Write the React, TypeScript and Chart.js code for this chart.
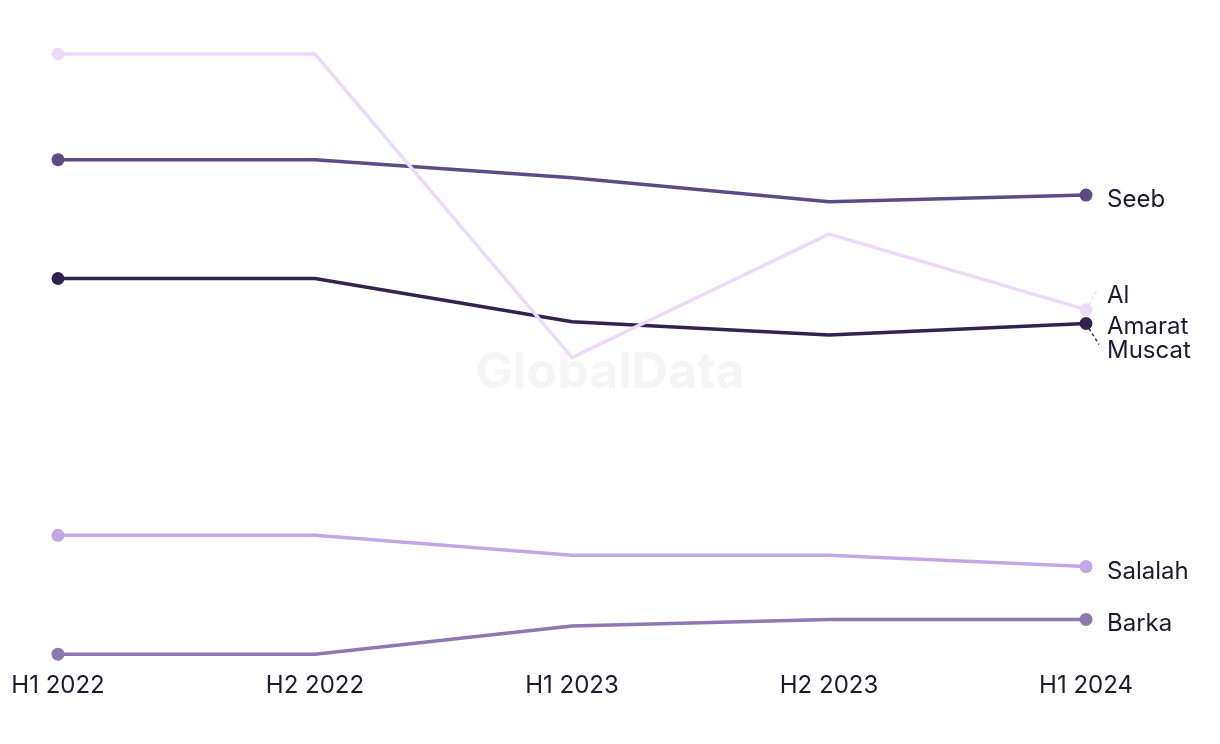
import React, { useEffect, useRef } from "react";
import { Chart, registerables } from "chart.js";

Chart.register(...registerables);

const periods = ["H1 2022", "H2 2022", "H1 2023", "H2 2023", "H1 2024"];
const alAmarat = [100, 100, 49.4, 70.0, 57.4];
const seeb = [82.4, 82.4, 79.4, 75.4, 76.5];
const muscat = [62.6, 62.6, 55.4, 53.2, 55.1];
const salalah = [19.8, 19.8, 16.5, 16.5, 14.6];
const barka = [0, 0, 4.7, 5.8, 5.8];

const seriesNames = ["Al Amarat", "Seeb", "Muscat", "Salalah", "Barka"];
const seriesColors = ["#efd9fb", "#5f4a85", "#35214f", "#c3a7e4", "#8f77b1"];

const TEXT_COLOR = "#1c1a33";
const FONT = "Inter, 'Noto Sans', sans-serif";

const endLabels = {
  id: "endLabels",
  afterDatasetsDraw(chart: any) {
    const ctx = chart.ctx;
    ctx.save();
    ctx.font = `24px ${FONT}`;
    ctx.fillStyle = TEXT_COLOR;
    ctx.textBaseline = "middle";
    ctx.textAlign = "left";
    const pts = chart.data.datasets.map((ds: any, i: number) => {
      const meta = chart.getDatasetMeta(i);
      const p = meta.data[meta.data.length - 1];
      return { x: p.x, y: p.y };
    });
    const tx = pts[0].x + 21;
    const pA = pts[0];
    const pM = pts[2];
    ctx.setLineDash([3, 3]);
    ctx.lineWidth = 1.5;
    ctx.strokeStyle = seriesColors[0];
    ctx.beginPath();
    ctx.moveTo(pA.x + 3, pA.y - 5);
    ctx.lineTo(pA.x + 12, pA.y - 21);
    ctx.stroke();
    ctx.strokeStyle = seriesColors[2];
    ctx.beginPath();
    ctx.moveTo(pM.x + 3, pM.y + 5);
    ctx.lineTo(pM.x + 13, pM.y + 21);
    ctx.stroke();
    ctx.setLineDash([]);
    ctx.fillText("Al", tx, pA.y - 14);
    ctx.fillText("Amarat", tx, pA.y + 17);
    ctx.fillText(seriesNames[2], tx, pM.y + 27);
    ctx.fillText(seriesNames[1], tx, pts[1].y + 5);
    ctx.fillText(seriesNames[3], tx, pts[3].y + 5);
    ctx.fillText(seriesNames[4], tx, pts[4].y + 4);
    ctx.restore();
  },
};

const watermark = {
  id: "watermark",
  beforeDatasetsDraw(chart: any) {
    const ctx = chart.ctx;
    ctx.save();
    ctx.font = `bold 50px ${FONT}`;
    ctx.fillStyle = "#f5f5f5";
    ctx.textAlign = "center";
    ctx.textBaseline = "middle";
    ctx.fillText("GlobalData", 610, 373);
    ctx.restore();
  },
};

export default function App() {
  const ref = useRef<HTMLCanvasElement>(null);
  useEffect(() => {
    if (!ref.current) return;
    const values = [alAmarat, seeb, muscat, salalah, barka];
    const chart = new Chart(ref.current, {
      type: "line",
      data: {
        labels: periods,
        datasets: values.map((v, i) => ({
          label: seriesNames[i],
          data: v,
          borderColor: seriesColors[i],
          backgroundColor: seriesColors[i],
          pointBackgroundColor: seriesColors[i],
          pointBorderWidth: 0,
          pointRadius: (c: any) => (c.dataIndex === 0 || c.dataIndex === v.length - 1 ? 6.5 : 0),
          borderWidth: 3.5,
          tension: 0,
          clip: false as any,
        })),
      },
      options: {
        animation: false,
        responsive: false,
        maintainAspectRatio: false,
        layout: { padding: { top: 54, left: 58, right: 134, bottom: 27 } },
        plugins: { legend: { display: false }, tooltip: { enabled: false } },
        scales: {
          x: {
            offset: false,
            grid: { display: false, drawTicks: false },
            border: { display: false },
            afterFit: (s: any) => {
              s.paddingLeft = 0;
              s.paddingRight = 0;
            },
            ticks: {
              color: TEXT_COLOR,
              font: { size: 24, family: FONT },
              padding: 17,
              maxRotation: 0,
            },
          },
          y: { display: false, min: 0, max: 100 },
        },
      },
      plugins: [watermark, endLabels],
    });
    return () => chart.destroy();
  }, []);
  return (
    <div style={{ position: "fixed", left: 0, top: 0, width: 1220, height: 744, background: "#fff" }}>
      <canvas ref={ref} width={1220} height={744} style={{ display: "block" }} />
    </div>
  );
}
